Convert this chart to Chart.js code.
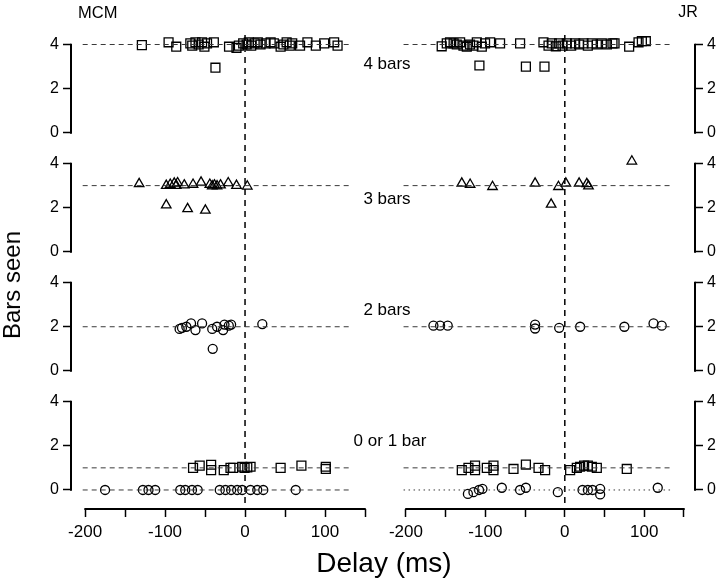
<!DOCTYPE html>
<html>
<head>
<meta charset="utf-8">
<script src="https://cdn.jsdelivr.net/npm/chart.js@4.4.1/dist/chart.umd.min.js"></script>
<style>
  html, body { margin: 0; padding: 0; background: #fff; }
  #fig { position: relative; width: 720px; height: 581px; overflow: hidden;
         font-family: "Liberation Sans", Arial, Helvetica, sans-serif; color: #000; }
  #fig canvas { position: absolute; top: 0; }
  .lbl { position: absolute; white-space: nowrap; line-height: 1; transform: translate(-50%, -50%); }
</style>
</head>
<body>
<div id="fig">
  <canvas id="mcm" width="380" height="581" style="left:0"></canvas>
  <canvas id="jr" width="340" height="581" style="left:380px"></canvas>

  <div class="lbl" style="left:78px;top:11.5px;font-size:16.5px;transform:translate(0,-50%)">MCM</div>
  <div class="lbl" style="left:688px;top:11.5px;font-size:16px">JR</div>
  <div class="lbl" style="left:387px;top:63px;font-size:17px">4 bars</div>
  <div class="lbl" style="left:387px;top:198px;font-size:17px">3 bars</div>
  <div class="lbl" style="left:387px;top:308.5px;font-size:17px">2 bars</div>
  <div class="lbl" style="left:390px;top:440px;font-size:17px">0 or 1 bar</div>
  <div class="lbl" style="left:12px;top:285px;font-size:24px;transform:translate(-50%,-50%) rotate(-90deg)">Bars seen</div>
  <div class="lbl" style="left:384px;top:563px;font-size:28px">Delay (ms)</div>
</div>

<script>
// axes
const DELAY_TICKS = [-200, -150, -100, -50, 0, 50, 100, 150];
const BAR_TICKS = [0, 1, 2, 3, 4];
const ONSET = 0;
const GUIDE_SPAN = [-203, 133];
const ROWS = ['r1', 'r2', 'r3', 'r4'];
const ROW_LEVELS = [[4], [3], [2], [1, 0]];

// MCM  [delay ms, bars seen]
const mcmFour = [[-129, 3.97], [-95.6, 4.1], [-86, 3.9], [-68.4, 4.05], [-66, 3.95], [-62, 4.1], [-58, 4.0],
  [-53.7, 4.1], [-50.8, 3.9], [-47.5, 4.05], [-39, 4.1], [-37, 2.95], [-20, 3.9], [-10.7, 3.85], [-7.7, 3.95],
  [-2.3, 4.05], [2, 4.0], [4.8, 4.1], [7.7, 3.95], [12, 4.05], [16, 4.1], [19.4, 4.0], [25.7, 4.05], [32, 4.1],
  [36, 4.05], [44.5, 3.9], [48, 4.0], [52, 4.1], [56, 3.95], [59, 4.05], [68.8, 3.95], [78, 4.1], [88.5, 3.95],
  [99, 4.05], [111.4, 4.1], [115.7, 3.95]];
const mcmThree = [[-132.4, 3.08], [-98.5, 3.0], [-93.5, 3.05], [-88.5, 3.1], [-86, 3.0], [-84.3, 3.12], [-76, 3.02],
  [-65, 3.05], [-55, 3.15], [-44, 3.05], [-41, 2.98], [-38.3, 3.02], [-35, 2.98], [-30.7, 3.02], [-21, 3.12],
  [-10.7, 3.0], [2.8, 2.97], [-98.5, 2.12], [-71.8, 1.95], [-49.6, 1.88]];
const mcmTwo = [[-81.8, 1.9], [-78.8, 1.95], [-73.4, 2.0], [-67.5, 2.15], [-62, 1.85], [-53.7, 2.15], [-41, 1.9],
  [-35, 2.0], [-27.4, 1.85], [-25.7, 2.1], [-20.3, 2.05], [-17.4, 2.1], [21.6, 2.12], [-40.4, 1.0]];
const mcmOne = [[-65, 1.0], [-56.7, 1.1], [-42.4, 1.14], [-42.4, 0.9], [-26.6, 0.9], [-18.2, 1.0], [-14.8, 1.0],
  [-3.5, 1.05], [-0.6, 1.0], [2.8, 1.02], [6.9, 1.05], [44.5, 1.0], [70.5, 1.1], [101, 1.05], [101, 0.95]];
const mcmZero = [[-175, 0], [-127.7, 0], [-120.7, 0], [-112.3, 0], [-81, 0], [-74.7, 0], [-66.3, 0], [-59.2, 0],
  [-31.6, 0], [-24.5, 0], [-17.4, 0], [-9.8, 0], [-3.5, 0], [6.9, 0], [15.3, 0], [22.8, 0], [63.4, 0]];

// JR
const jrFour = [[-155, 3.92], [-148.6, 4.05], [-144.5, 4.1], [-140, 4.05], [-136, 4.0], [-131.8, 4.1], [-127.6, 3.95],
  [-123.4, 3.9], [-119.3, 4.0], [-115, 3.95], [-110.8, 4.1], [-104.5, 3.9], [-100.4, 4.05], [-94, 4.1], [-81.5, 4.05],
  [-56.3, 4.05], [-26.9, 4.1], [-20.5, 3.95], [-16.4, 4.05], [-11.3, 3.92], [-7.1, 4.05], [-2.9, 3.95], [2.5, 4.05],
  [8, 3.95], [13, 4.05], [18, 4.0], [23.5, 4.05], [29, 3.95], [34, 4.05], [40.3, 4.0], [46.6, 4.05], [53, 4.0],
  [60, 4.05], [62.6, 4.05], [81, 3.9], [92.8, 4.1], [97, 4.15], [102, 4.15], [-107.5, 3.05], [-49, 3.0], [-25.6, 3.0]];
const jrThree = [[-129.7, 3.1], [-119.2, 3.05], [-91, 2.95], [-37.4, 3.1], [-8, 2.95], [1.3, 3.1], [18, 3.1],
  [27.7, 3.08], [29.8, 2.98], [84.4, 4.1], [-17.2, 2.15]];
const jrTwo = [[-165.4, 2.05], [-157, 2.05], [-147.4, 2.05], [-37.4, 2.1], [-37.4, 1.92], [-7.1, 1.95], [19.3, 2.0],
  [75, 2.0], [111.7, 2.15], [122, 2.05]];
const jrOne = [[-129.7, 0.9], [-121.3, 1.0], [-113, 1.1], [-113, 0.9], [-98.2, 1.0], [-89.8, 1.1], [-89.8, 0.9],
  [-64.6, 0.95], [-49, 1.15], [-33.1, 1.0], [-24.8, 0.9], [6.7, 0.9], [15.1, 1.0], [19.3, 1.05], [24.3, 1.1],
  [29, 1.1], [34, 1.05], [40.3, 1.0], [78, 0.95]];
const jrZero = [[-122, -0.18], [-115, -0.1], [-108, 0.0], [-103.7, 0.05], [-79.3, 0.1], [-56.3, 0.0], [-49, 0.1],
  [-8.8, -0.1], [22.3, 0.0], [29, 0.0], [34.9, 0.0], [44.5, 0.05], [44.5, -0.2], [117, 0.1]];

const FONT = 'Liberation Sans, Arial, Helvetica, sans-serif';
const DASH = [5, 4];
const DOTS = [1.5, 3.5];

function marks(pairs, style, radius, axis) {
  return {
    type: 'scatter', yAxisID: axis, clip: false, showLine: false,
    data: pairs.map(p => ({ x: p[0], y: p[1] })),
    pointStyle: style, pointRadius: radius, pointBorderWidth: 1.3,
    pointBorderColor: '#000', pointBackgroundColor: 'rgba(0,0,0,0)'
  };
}

function guide(level, axis, dash) {
  return {
    type: 'line', yAxisID: axis, clip: false, showLine: true, fill: false,
    data: GUIDE_SPAN.map(x => ({ x: x, y: level })),
    borderColor: '#3a3a3a', borderWidth: 1, borderDash: dash, pointRadius: 0
  };
}

function buildScales(position, xMin, xMax, axisWidth) {
  const scales = {
    x: {
      type: 'linear', position: 'bottom', min: xMin, max: xMax,
      afterBuildTicks: s => { s.ticks = DELAY_TICKS.map(v => ({ value: v })); },
      afterFit: s => { s.height = 50; },
      border: { display: false },
      grid: { drawOnChartArea: false, tickLength: 8, tickWidth: 1.5, tickColor: '#000' },
      ticks: {
        autoSkip: false, maxRotation: 0, padding: 5, color: '#000',
        font: { family: FONT, size: 17 },
        callback: v => (v % 100 === 0 ? v : '')
      }
    }
  };
  ROWS.forEach((id, i) => {
    scales[id] = {
      type: 'linear', position: position, stack: position, stackWeight: 1,
      weight: position === 'left' ? 4 - i : i + 1,
      min: -0.86, max: 4.52,
      afterBuildTicks: s => { s.ticks = BAR_TICKS.map(v => ({ value: v })); },
      afterFit: s => { s.width = axisWidth; },
      border: { display: false },
      grid: { drawOnChartArea: false, tickLength: 8, tickWidth: 1.5, tickColor: '#000' },
      ticks: {
        padding: 4, color: '#000', font: { family: FONT, size: 16 },
        callback: v => (v % 2 === 0 ? v : '')
      }
    };
  });
  return scales;
}

// axis lines drawn only over the labelled range, plus the dashed zero-delay line
const frame = {
  id: 'frame',
  beforeDatasetsDraw(chart) {
    const { ctx, chartArea, scales } = chart;
    const x0 = scales.x.getPixelForValue(ONSET);
    ctx.save();
    ctx.strokeStyle = '#000';
    ctx.lineWidth = 1.5;
    ctx.setLineDash([6, 5]);
    ctx.beginPath();
    ctx.moveTo(x0, chartArea.top + 2);
    ctx.lineTo(x0, chartArea.bottom - 6);
    ctx.stroke();
    ctx.restore();
  },
  afterDraw(chart) {
    const { ctx, scales } = chart;
    const xs = scales.x;
    ctx.save();
    ctx.strokeStyle = '#000';
    ctx.lineWidth = 2;
    ctx.beginPath();
    ctx.moveTo(xs.getPixelForValue(DELAY_TICKS[0]) - 0.75, xs.top);
    ctx.lineTo(xs.getPixelForValue(DELAY_TICKS[DELAY_TICKS.length - 1]) + 0.75, xs.top);
    ROWS.forEach(id => {
      const s = scales[id];
      const px = s.position === 'left' ? s.right : s.left;
      ctx.moveTo(px, s.getPixelForValue(BAR_TICKS[0]) + 0.75);
      ctx.lineTo(px, s.getPixelForValue(BAR_TICKS[BAR_TICKS.length - 1]) - 0.75);
    });
    ctx.stroke();
    ctx.restore();
  }
};

function column(canvasId, sets, position, xMin, xMax, axisWidth, padding, zeroDash) {
  const datasets = [];
  ROW_LEVELS.forEach((levels, i) => {
    levels.forEach(level => datasets.push(guide(level, ROWS[i], level === 0 ? zeroDash : DASH)));
  });
  datasets.push(
    marks(sets.four, 'rect', 6.3, 'r1'),
    marks(sets.three, 'triangle', 5.5, 'r2'),
    marks(sets.two, 'circle', 4.5, 'r3'),
    marks(sets.one, 'rect', 6.3, 'r4'),
    marks(sets.zero, 'circle', 4.5, 'r4')
  );
  return new Chart(document.getElementById(canvasId), {
    type: 'scatter',
    data: { datasets: datasets },
    options: {
      responsive: false,
      animation: false,
      events: [],
      layout: { padding: padding },
      plugins: { legend: { display: false }, tooltip: { enabled: false } },
      scales: buildScales(position, xMin, xMax, axisWidth)
    },
    plugins: [frame]
  });
}

column('mcm', { four: mcmFour, three: mcmThree, two: mcmTwo, one: mcmOne, zero: mcmZero },
  'left', -217.6, 150, 40, { left: 31, right: 15, top: 33, bottom: 22 }, DASH);
column('jr', { four: jrFour, three: jrThree, two: jrTwo, one: jrOne, zero: jrZero },
  'right', -210, 163.9, 25, { left: 18, right: 0, top: 33, bottom: 22 }, DOTS);
</script>
</body>
</html>
